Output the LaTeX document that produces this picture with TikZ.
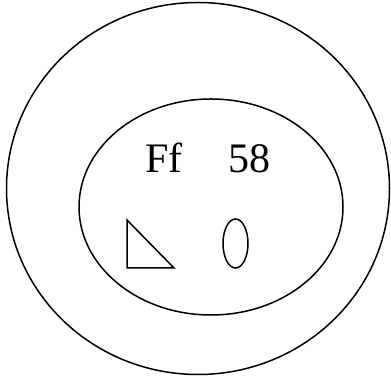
\documentclass[tikz,border=0pt]{standalone}
\usepackage{fontspec}
\setmainfont{Liberation Serif}
\begin{document}
\begin{tikzpicture}[x=1pt,y=1pt,
  shape line/.style={draw=black,line width=1.5pt},
  label text/.style={inner sep=0pt,anchor=base west,font=\fontsize{42}{42}\selectfont}]
\useasboundingbox (0,0) rectangle (391,379);
\draw[shape line] (198,190.5) ellipse [x radius=191.5,y radius=186];
\draw[shape line] (211,172) ellipse [x radius=132,y radius=108];
\node[label text] (ff) at (145,206) {Ff};
\node[label text] (n58) at (228,206) {58};
\coordinate (t1) at (127,159);
\coordinate (t2) at (127,111);
\coordinate (t3) at (174,111);
\draw[shape line,line join=miter] (t1) -- (t2) -- (t3) -- cycle;
\draw[shape line] (235.5,135.5) ellipse [x radius=12.5,y radius=24.5];
\end{tikzpicture}
\end{document}
